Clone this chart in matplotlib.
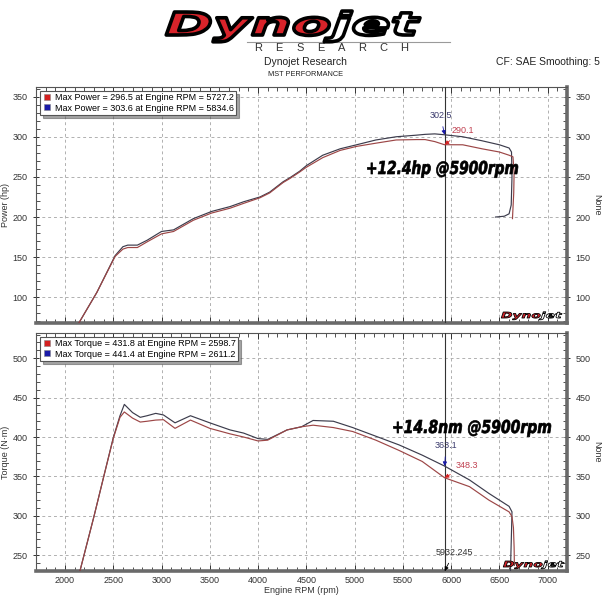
"""
Dynojet style power / torque comparison sheet (two runs).
"""

import numpy as np
import matplotlib
matplotlib.use("Agg")
from matplotlib import pyplot as plt
from matplotlib.ticker import MultipleLocator
from matplotlib.lines import Line2D
from matplotlib.textpath import TextPath
from matplotlib.font_manager import FontProperties
from matplotlib.patches import PathPatch
from matplotlib.transforms import Affine2D, IdentityTransform

###############
#    DATA     #
###############

# power run (hp)
rpm_hp = [2100, 2330, 2520, 2600, 2650, 2750, 2850, 3000, 3125, 3330, 3520,
          3710, 3850, 4020, 4120, 4260, 4330, 4430, 4500, 4670, 4850, 5020,
          5220, 5430, 5640, 5730, 5830, 5930, 6120, 6320, 6500, 6600]
hp_red = [59, 106, 151, 160, 162, 162, 169, 179, 182, 196, 205,
          211, 217, 224, 230, 243, 248, 256, 262, 274, 283, 288,
          292, 296, 296.5, 296.5, 294, 290.1, 290, 285, 281, 277]
hp_blue = [59, 106, 152, 163, 165, 165, 171, 182, 184, 198, 207,
           213, 219, 225, 231, 244, 249, 257, 264, 277, 285, 290,
           296, 300, 302, 303, 303.6, 302.5, 300, 295, 290, 286]
# end of run, where the curves fall off
tail_rpm_hp_red = [6640, 6652, 6648, 6635]
tail_hp_red = [275, 255, 230, 198]
tail_rpm_hp_blue = [6625, 6630, 6622, 6600, 6550, 6460]
tail_hp_blue = [281, 250, 215, 204, 201, 200]

# torque run (N.m)
rpm_tq = [2130, 2300, 2400, 2500, 2570, 2615, 2700, 2780, 2850, 2940, 3020,
          3140, 3300, 3500, 3710, 3850, 4000, 4100, 4300, 4450, 4570, 4780,
          4980, 5220, 5460, 5700, 5932, 6190, 6390, 6600, 6630]
tq_red = [218, 299, 349, 398, 425, 431.8, 424, 419, 420, 421.5, 422,
          411, 421.5, 411, 404, 400, 395, 396, 409, 413, 415, 412,
          407, 396, 383, 369, 348.3, 337, 320, 305, 299]
tq_blue = [218, 299, 349, 399, 427, 441.4, 431, 425, 427, 430, 428,
           418, 427, 418, 409, 405, 398, 397, 409, 413, 421, 420,
           412, 401, 390, 377, 363.1, 345.5, 328.5, 312, 305]
tail_rpm_tq_red = [6645, 6652, 6655]
tail_tq_red = [285, 260, 237]
tail_rpm_tq_blue = [6625, 6618, 6612]
tail_tq_blue = [280, 248, 220]

cursor_rpm = 5932.245
cursor_hp = (302.5, 290.1)      # blue, red
cursor_tq = (363.1, 348.3)

hp_labels = ['Max Power = 296.5 at Engine RPM = 5727.2',
             'Max Power = 303.6 at Engine RPM = 5834.6']
tq_labels = ['Max Torque = 431.8 at Engine RPM = 2598.7',
             'Max Torque = 441.4 at Engine RPM = 2611.2']

###############
#  CONSTANTS  #
###############

RED_LINE = '#9c4646'
BLUE_LINE = '#3c3c4c'
RED_KEY = '#d42020'
BLUE_KEY = '#1a1aa8'
HEAVY = FontProperties(family='DejaVu Sans', weight='bold', style='oblique')

plt.rcParams['font.family'] = ['Liberation Sans', 'DejaVu Sans']


def path_text(fig, parts, x0, x1, base, cap_h, lw, gap=0.04):
    """
    Draw text as stretched glyph outlines in pixel coords (y from the top).
    parts is a list of (text, face colour) drawn one after the other.
    """
    paths, offs, off = [], [], 0.0
    for txt, _ in parts:
        p = TextPath((0, 0), txt, size=1, prop=HEAVY)
        paths.append(p)
        offs.append(off)
        off += p.get_extents().x1 + gap
    total = off - gap
    sx, sy = (x1 - x0) / total, cap_h / 0.73
    H = fig.get_figheight() * fig.dpi
    for p, o, (_, face) in zip(paths, offs, parts):
        tr = Affine2D().translate(o, 0).scale(sx, sy).translate(x0, H - base)
        fig.add_artist(PathPatch(tr.transform_path(p), fc=face, ec='black', lw=lw,
                                 joinstyle='round', transform=IdentityTransform(), zorder=5))


def style_axes(ax, ylim):
    ax.set_xlim(1700, 7200)
    ax.set_ylim(*ylim)
    ax.xaxis.set_major_locator(MultipleLocator(500))
    ax.xaxis.set_minor_locator(MultipleLocator(100))
    ax.yaxis.set_major_locator(MultipleLocator(50))
    ax.yaxis.set_minor_locator(MultipleLocator(10))
    ax.grid(True, which='major', ls=(0, (3, 3)), color='#b0b0b0', lw=0.7)
    ax.set_axisbelow(True)
    ax.tick_params(which='both', top=True, right=True, labelright=True,
                   labelsize=6.5, colors='#333333')
    ax.tick_params(which='major', direction='inout', length=5, width=0.7)
    ax.tick_params(which='minor', direction='in', length=3, width=0.6)
    ax.tick_params(axis='x', which='major', direction='in', length=4)
    for side in ('left', 'top'):
        ax.spines[side].set_color('#555555')
        ax.spines[side].set_linewidth(0.8)
    for side in ('bottom', 'right'):
        ax.spines[side].set_color('#6a6a6a')
        ax.spines[side].set_linewidth(2.6)
    ax.text(1.056, 0.5, 'None', rotation=270, transform=ax.transAxes,
            ha='center', va='center', fontsize=6.5, color='#333333')
    ax.axvline(cursor_rpm, color='#333333', lw=0.8, zorder=3)


def add_legend(ax, labels):
    handles = [Line2D([], [], ls='none', marker='s', ms=4.5, mfc=c, mec='#888888', mew=0.4)
               for c in (RED_KEY, BLUE_KEY)]
    leg = ax.legend(handles, labels, loc='upper left', bbox_to_anchor=(0.0075, 0.983),
                    fontsize=6.5, frameon=True, fancybox=False, shadow=True,
                    edgecolor='#555555', borderpad=0.25, handlelength=1.0,
                    handletextpad=0.4, labelspacing=0.15, borderaxespad=0)
    leg.get_frame().set_linewidth(0.8)


def cursor_note(ax, y, text, offset, txt_color, head_color):
    ax.annotate(text, xy=(cursor_rpm, y), xytext=offset, textcoords='offset points',
                ha='center', va='center', fontsize=6.5, color=txt_color,
                arrowprops=dict(arrowstyle='-|>', color=head_color, lw=0.6,
                                mutation_scale=6, shrinkA=3, shrinkB=0), zorder=6)


fig = plt.figure(figsize=(6.08, 6.08), dpi=100)
fig.patch.set_facecolor('white')

ax_hp = fig.add_axes([0.0592, 0.4688, 0.8734, 0.3881])
ax_tq = fig.add_axes([0.0592, 0.0609, 0.8734, 0.3914])

# power
ax_hp.plot(rpm_hp + tail_rpm_hp_blue, hp_blue + tail_hp_blue, color=BLUE_LINE, lw=0.85, zorder=4)
ax_hp.plot(rpm_hp + tail_rpm_hp_red, hp_red + tail_hp_red, color=RED_LINE, lw=0.85, zorder=4)
style_axes(ax_hp, (68, 362))
ax_hp.tick_params(labelbottom=False)
ax_hp.set_ylabel('Power (hp)', fontsize=6.5, labelpad=2, color='#333333')
add_legend(ax_hp, hp_labels)
cursor_note(ax_hp, cursor_hp[0], '302.5', (-3, 14), '#3c3c6e', BLUE_KEY)
cursor_note(ax_hp, cursor_hp[1], '290.1', (13, 10), '#c04050', RED_KEY)

# torque
ax_tq.plot(rpm_tq + tail_rpm_tq_blue, tq_blue + tail_tq_blue, color=BLUE_LINE, lw=0.85, zorder=4)
ax_tq.plot(rpm_tq + tail_rpm_tq_red, tq_red + tail_tq_red, color=RED_LINE, lw=0.85, zorder=4)
style_axes(ax_tq, (230, 532))
ax_tq.set_ylabel('Torque (N·m)', fontsize=6.5, labelpad=2, color='#333333')
ax_tq.set_xlabel('Engine RPM (rpm)', fontsize=6.5, labelpad=1, color='#333333')
add_legend(ax_tq, tq_labels)
cursor_note(ax_tq, cursor_tq[0], '363.1', (1, 15), '#3c3c6e', BLUE_KEY)
cursor_note(ax_tq, cursor_tq[1], '348.3', (16, 9), '#c04050', RED_KEY)
cursor_note(ax_tq, 230, '5932.245', (7, 13.5), '#333333', 'black')

# gain call-outs
path_text(fig, [('+12.4hp @5900rpm', 'black')], 366, 518, 174, 13, 0.5, gap=0)
path_text(fig, [('+14.8nm @5900rpm', 'black')], 392, 551, 433, 13, 0.5, gap=0)

# header
path_text(fig, [('Dyno', '#d9232a'), ('jet', 'white')], 165, 420, 35, 23, 2.6)
fig.add_artist(Line2D([247 / 608, 450 / 608], [1 - 42 / 608, 1 - 42 / 608],
                      color='#9a9a9a', lw=0.8))
for i, ch in enumerate('RESEARCH'):
    fig.text((258 + i * 20.9) / 608, 1 - 48 / 608, ch, ha='center', va='center',
             fontsize=8, color='#333333')
fig.text(305 / 608, 1 - 62 / 608, 'Dynojet Research', ha='center', va='center',
         fontsize=7.5, color='#222222')
fig.text(305 / 608, 1 - 74 / 608, 'MST PERFORMANCE', ha='center', va='center',
         fontsize=5.3, color='#222222')
fig.text(600 / 608, 1 - 62 / 608, 'CF: SAE Smoothing: 5', ha='right', va='center',
         fontsize=7.5, color='#222222')

# small watermarks in the panels
path_text(fig, [('Dyno', '#d9232a'), ('jet', 'white')], 501, 562, 318, 6, 0.6)
path_text(fig, [('Dyno', '#d9232a'), ('jet', 'white')], 503, 564, 567, 6, 0.6)

fig.savefig('out.png', dpi=100)
